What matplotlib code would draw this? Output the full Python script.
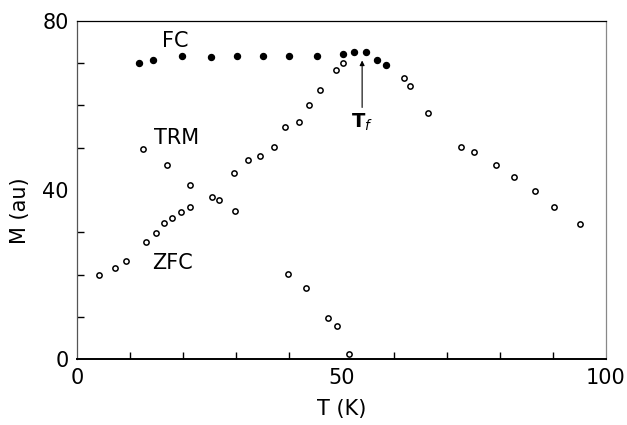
import matplotlib
matplotlib.use("Agg")
import matplotlib.pyplot as plt

# field cooled magnetisation (filled)
fc_T = [11.7, 14.4, 19.9, 25.4, 30.2, 35.2, 40.1, 45.3, 50.3, 52.4, 54.6, 56.8, 58.5]
fc_M = [70.0, 70.7, 71.7, 71.4, 71.7, 71.7, 71.7, 71.7, 72.1, 72.6, 72.6, 70.7, 69.5]

# zero field cooled, rising branch up to the freezing temperature
zfc_T = [4.1, 7.2, 9.3, 13.0, 14.9, 16.5, 18.0, 19.6, 21.4, 29.6, 32.3, 34.5, 37.2,
         39.4, 42.0, 43.9, 46.0, 48.9, 50.3]
zfc_M = [19.8, 21.6, 23.2, 27.7, 29.8, 32.2, 33.3, 34.7, 36.0, 43.9, 47.1, 48.0, 50.1,
         54.8, 56.1, 60.0, 63.7, 68.3, 69.9]

# paramagnetic tail above T_f
hi_T = [61.8, 62.9, 66.3, 72.6, 75.0, 79.3, 82.6, 86.6, 90.2, 95.0]
hi_M = [66.5, 64.6, 58.2, 50.2, 49.0, 45.8, 43.0, 39.8, 36.0, 32.0]

# thermoremanent magnetisation
trm_T = [12.4, 17.1, 21.4, 25.6, 26.9, 29.9, 39.8, 43.2, 47.4, 49.1, 51.5]
trm_M = [49.8, 45.8, 41.1, 38.4, 37.7, 35.1, 20.1, 16.8, 9.7, 7.9, 1.25]

TF = 53.9

plt.rcParams['font.family'] = ['DejaVu Sans']

fig = plt.figure(figsize=(6.27, 4.25), dpi=100)
ax = fig.add_axes([0.1228, 0.1546, 0.8437, 0.7967])

ax.plot(fc_T, fc_M, 'o', ms=4.3, color='black', mec='black')
open_style = dict(marker='o', ls='none', ms=3.8, mfc='white', mec='black', mew=1.1)
ax.plot(zfc_T, zfc_M, **open_style)
ax.plot(hi_T, hi_M, **open_style)
ax.plot(trm_T, trm_M, **open_style)

ax.text(18.5, 75.2, 'FC', fontsize=15, ha='center', va='center')
ax.text(18.9, 52.3, 'TRM', fontsize=15, ha='center', va='center')
ax.text(18.1, 22.7, 'ZFC', fontsize=15, ha='center', va='center')

ax.annotate('', xy=(TF, 70.6), xytext=(TF, 59.5),
            arrowprops=dict(arrowstyle='-|>', lw=0.8, color='black',
                            mutation_scale=7, shrinkA=0, shrinkB=0))
ax.text(TF, 56.0, r'$\mathbf{T}_{f}$', fontsize=14, ha='center', va='center')

ax.set_xlim(0, 100)
ax.set_ylim(0, 80)
ax.set_xticks([0, 50, 100])
ax.set_yticks([0, 40, 80])
ax.set_xticks(range(0, 101, 10), minor=True)
ax.set_yticks(range(0, 81, 10), minor=True)
ax.tick_params(which='both', direction='in', top=False, right=False,
               labelsize=15, width=1.0, color='black')
ax.tick_params(which='major', length=0, pad=6)
ax.tick_params(which='minor', length=5)

for side in ['left', 'top', 'right']:
    ax.spines[side].set_linewidth(0.9)
ax.spines['left'].set_color('#555555')
ax.spines['right'].set_color('#888888')
ax.spines['bottom'].set_linewidth(1.4)

ax.set_xlabel('T (K)', fontsize=15, labelpad=8)
ax.set_ylabel('M (au)', fontsize=15, labelpad=10)
ax.yaxis.set_label_coords(-0.088, 0.44)

fig.savefig('out.png', dpi=100)
